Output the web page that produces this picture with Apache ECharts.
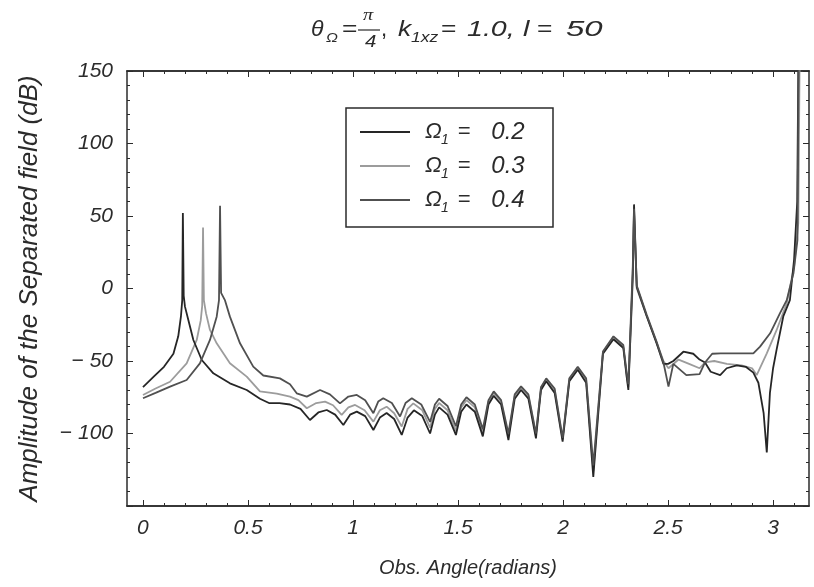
<!DOCTYPE html>
<html><head><meta charset="utf-8">
<script src="https://cdn.jsdelivr.net/npm/echarts@6/dist/echarts.min.js"></script>
<style>html,body{margin:0;padding:0;background:#fff}#c{width:814px;height:587px}</style>
</head><body><div id="c"></div>
<script>
const seriesNames = ['Ω₁ = 0.2', 'Ω₁ = 0.3', 'Ω₁ = 0.4'];

const xA = [0, 0.05, 0.1, 0.145, 0.168, 0.181, 0.187, 0.19, 0.194, 0.2, 0.216, 0.24, 0.28, 0.335, 0.414, 0.494, 0.557, 0.6, 0.65, 0.7, 0.75, 0.795, 0.835, 0.875, 0.915, 0.954, 0.986, 1.018, 1.058, 1.097, 1.128, 1.16, 1.196, 1.232, 1.26, 1.29, 1.33, 1.367, 1.39, 1.41, 1.45, 1.49, 1.515, 1.54, 1.58, 1.618, 1.645, 1.67, 1.705, 1.74, 1.77, 1.8, 1.835, 1.871, 1.895, 1.92, 1.96, 1.998, 2.03, 2.07, 2.11, 2.144, 2.19, 2.24, 2.287, 2.303, 2.311, 2.332, 2.338, 2.351, 2.398, 2.446, 2.478, 2.5, 2.525, 2.573, 2.62, 2.65, 2.676, 2.703, 2.748, 2.779, 2.827, 2.87, 2.906, 2.93, 2.955, 2.97, 2.985, 3.0, 3.017, 3.049, 3.08, 3.1, 3.115, 3.12, 3.125];
const yA = [-68, -61, -54, -45, -33, -19, -8, 52, -5, -12.5, -21.7, -35.5, -49.3, -58.5, -65.4, -70, -76, -79, -79, -80, -83, -90.7, -85.5, -83.8, -87, -94.1, -87, -84.9, -88, -97.6, -89, -85.9, -90, -101, -89, -84, -88, -100, -87, -82, -87, -101, -85, -80, -85, -102, -80, -74, -80, -104.5, -76, -70, -76, -103.3, -70, -64, -72, -105.6, -64, -56, -65, -130, -45, -35, -41, -61, -70, 10, 58, 1, -19, -38, -52, -52, -50, -43.6, -45, -49, -51, -57.4, -59.7, -55, -53, -54, -58, -65, -86, -113, -72, -55, -42, -19, -8, 20, 60, 150, 170];

const xB = [0, 0.06, 0.129, 0.208, 0.256, 0.275, 0.282, 0.286, 0.29, 0.3, 0.319, 0.351, 0.414, 0.494, 0.557, 0.637, 0.7, 0.74, 0.78, 0.825, 0.867, 0.905, 0.946, 0.978, 1.01, 1.055, 1.097, 1.128, 1.16, 1.196, 1.232, 1.26, 1.287, 1.33, 1.367, 1.39, 1.41, 1.45, 1.49, 1.515, 1.54, 1.58, 1.618, 1.645, 1.67, 1.705, 1.74, 1.77, 1.8, 1.835, 1.871, 1.895, 1.92, 1.96, 1.998, 2.03, 2.07, 2.11, 2.144, 2.19, 2.24, 2.287, 2.303, 2.311, 2.332, 2.338, 2.351, 2.398, 2.446, 2.478, 2.502, 2.55, 2.6, 2.65, 2.676, 2.72, 2.78, 2.85, 2.9, 2.922, 2.97, 3.017, 3.065, 3.1, 3.12, 3.127];
const yB = [-73.4, -69, -64.3, -51.6, -35.5, -22, -12, 42, -8, -17, -28.6, -37.8, -51.6, -60.8, -71, -72.5, -74.6, -77, -82.6, -79, -78, -80.5, -87.2, -82, -80.3, -84, -91.8, -84, -81.5, -86, -95.2, -83, -79.2, -84, -96, -83, -79, -84, -98, -82, -77, -82, -100, -78, -72, -78, -102, -74, -68.5, -74, -101, -68.5, -62.5, -70, -104, -62.5, -54.5, -63, -126, -44, -33.5, -40, -60, -68, 5, 52, 0, -19, -37.5, -50, -55, -49, -52, -55, -51, -50, -52, -53, -55, -59.7, -44.7, -28.6, -10.2, 15, 45, 170];

const xC = [0, 0.06, 0.129, 0.208, 0.271, 0.319, 0.351, 0.362, 0.367, 0.372, 0.39, 0.414, 0.462, 0.525, 0.573, 0.652, 0.7, 0.732, 0.78, 0.843, 0.89, 0.938, 0.978, 1.018, 1.058, 1.097, 1.12, 1.144, 1.185, 1.224, 1.25, 1.28, 1.325, 1.367, 1.39, 1.41, 1.45, 1.49, 1.515, 1.54, 1.58, 1.618, 1.645, 1.67, 1.705, 1.74, 1.77, 1.8, 1.835, 1.871, 1.895, 1.92, 1.96, 1.998, 2.03, 2.07, 2.11, 2.144, 2.19, 2.24, 2.287, 2.303, 2.311, 2.332, 2.338, 2.351, 2.398, 2.446, 2.478, 2.502, 2.525, 2.587, 2.65, 2.676, 2.71, 2.75, 2.85, 2.906, 2.938, 2.986, 3.033, 3.065, 3.097, 3.116, 3.122];
const yC = [-75.7, -72, -67.7, -63.1, -51.6, -35.5, -19.4, -8, 57, -3, -8, -19.4, -37.8, -53.9, -60, -62, -66, -72.3, -74.6, -70, -73, -79.2, -74.5, -73.4, -77, -86, -78, -75.7, -79, -88.3, -79, -75.7, -80, -92, -80, -76, -81, -95, -80, -75, -80, -97, -77, -71, -77, -100, -73, -67.5, -73, -100, -68, -62, -69, -103, -62, -54, -62, -122, -43.5, -33, -39, -58, -66, 15, 55, 2, -18, -37, -51, -67.7, -52, -59.7, -59, -51, -45, -44.7, -44.7, -44.7, -40.1, -30.9, -17, -8, 10.5, 33.4, 170];

const xMajorTicks = [0, 0.5, 1, 1.5, 2, 2.5, 3];
const xMinorTicks = [0.1, 0.2, 0.3, 0.4, 0.6, 0.7, 0.8, 0.9, 1.1, 1.2, 1.3, 1.4, 1.6, 1.7, 1.8, 1.9, 2.1, 2.2, 2.3, 2.4, 2.6, 2.7, 2.8, 2.9, 3.1];

const zip = (xs, ys) => xs.map((x, i) => [x, ys[i]]);
const FONT = 'Liberation Sans';
const INK = '#2b2b2b';
const colors = ['#262626', '#9c9c9c', '#505050'];

const chart = echarts.init(document.getElementById('c'), null, {renderer: 'canvas'});

const xBase = {
  type: 'value', min: -0.076, max: 3.171,
  splitLine: {show: false},
  axisLine: {show: true, onZero: false, lineStyle: {color: INK, width: 1.5}},
};
const yBase = {
  type: 'value', min: -150, max: 150, interval: 50,
  splitLine: {show: false},
  axisLine: {show: true, onZero: false, lineStyle: {color: INK, width: 1.5}},
  axisTick: {show: true, inside: true, length: 6, lineStyle: {color: INK, width: 1}},
  minorTick: {show: true, splitNumber: 5, length: 3, lineStyle: {color: INK, width: 1}},
};

const tTxt = (text, x, y, size, sx, serif, upright) => ({
  type: 'text', x: x, y: y, scaleX: sx,
  style: {text: text, font: (upright ? '' : 'italic ') + size + 'px "' + (serif ? 'Liberation Serif' : 'Liberation Sans') + '"', fill: INK, textVerticalAlign: 'top'}
});

chart.setOption({
  animation: false,
  backgroundColor: '#fff',
  color: colors,
  grid: {left: 127, top: 71, right: 5, bottom: 81, containLabel: false},
  xAxis: [
    Object.assign({}, xBase, {
      position: 'bottom',
      name: 'Obs. Angle(radians)', nameLocation: 'middle', nameGap: 52,
      nameTextStyle: {fontFamily: FONT, fontStyle: 'italic', fontSize: 20, color: INK},
      axisTick: {show: true, inside: true, length: 6, customValues: xMajorTicks, lineStyle: {color: INK, width: 1}},
      axisLabel: {show: true, customValues: xMajorTicks, margin: 12, fontFamily: FONT, fontStyle: 'italic', fontSize: 21, color: INK,
        formatter: v => String(v)}
    }),
    Object.assign({}, xBase, {
      position: 'bottom',
      axisTick: {show: true, inside: true, length: 3, customValues: xMinorTicks, lineStyle: {color: INK, width: 1}},
      axisLabel: {show: false}
    }),
    Object.assign({}, xBase, {
      position: 'top',
      axisTick: {show: true, inside: true, length: 6, customValues: xMajorTicks, lineStyle: {color: INK, width: 1}},
      axisLabel: {show: false}
    }),
    Object.assign({}, xBase, {
      position: 'top',
      axisTick: {show: true, inside: true, length: 3, customValues: xMinorTicks, lineStyle: {color: INK, width: 1}},
      axisLabel: {show: false}
    })
  ],
  yAxis: [
    Object.assign({}, yBase, {
      position: 'left',
      name: 'Amplitude of the Separated field (dB)', nameLocation: 'middle', nameGap: 84, nameRotate: 90,
      nameTextStyle: {fontFamily: FONT, fontStyle: 'italic', fontSize: 26, color: INK},
      axisLabel: {show: true, showMinLabel: false, margin: 14, fontFamily: FONT, fontStyle: 'italic', fontSize: 21, color: INK,
        formatter: v => v < 0 ? '− ' + Math.abs(v) : String(v)}
    }),
    Object.assign({}, yBase, {
      position: 'right',
      axisLabel: {show: false}
    })
  ],
  legend: {
    show: true, orient: 'vertical', left: 346, top: 108,
    padding: [12, 14, 12, 14], itemGap: 7,
    borderColor: INK, borderWidth: 1.5, backgroundColor: '#fff', borderRadius: 0,
    itemWidth: 50, itemHeight: 2, icon: 'rect',
    formatter: n => {
      const v = n.split('= ')[1];
      return '{o|Ω}{s|1}{e|=}{n|' + v + '}';
    },
    textStyle: {
      fontFamily: FONT, fontStyle: 'italic', color: INK,
      rich: {
        o: {fontFamily: FONT, fontStyle: 'italic', fontSize: 22, color: INK, width: 16, padding: [0, 0, 0, 10], lineHeight: 24, verticalAlign: 'middle'},
        s: {fontFamily: FONT, fontStyle: 'italic', fontSize: 14, color: INK, width: 12, lineHeight: 24, verticalAlign: 'bottom', padding: [0, 0, -3, 0]},
        e: {fontFamily: FONT, fontSize: 22, color: INK, width: 22, align: 'center', lineHeight: 24, verticalAlign: 'middle'},
        n: {fontFamily: FONT, fontStyle: 'italic', fontSize: 24, color: INK, width: 62, padding: [0, 0, 0, 2], lineHeight: 24, verticalAlign: 'middle'}
      }
    },
    data: seriesNames
  },
  graphic: [
    tTxt('θ', 311, 19, 22, 1.05, false),
    tTxt('Ω', 326, 32, 13, 1.2, false),
    tTxt('=', 342, 19, 22, 1.2, false, true),
    tTxt('π', 363, 7, 17, 1.2, true),
    {type: 'line', shape: {x1: 358, y1: 30, x2: 380, y2: 30}, style: {stroke: INK, lineWidth: 1.2}},
    tTxt('4', 365, 34, 17, 1.2, false),
    tTxt(',', 381, 19, 22, 1, false, true),
    tTxt('k', 398, 19, 22, 1.2, false),
    tTxt('1xz', 411, 31, 14, 1.25, false),
    tTxt('=', 441, 19, 22, 1.2, false, true),
    tTxt('1.0,', 467, 19, 22, 1.3, false),
    tTxt('l', 523, 19, 22, 1.3, false),
    tTxt('=', 537, 19, 22, 1.2, false, true),
    tTxt('50', 566, 19, 22, 1.5, false)
  ],
  series: [
    {name: seriesNames[0], type: 'line', data: zip(xA, yA), xAxisIndex: 0, yAxisIndex: 0, showSymbol: false, symbol: 'none', z: 3, clip: true,
     lineStyle: {color: colors[0], width: 1.8}, itemStyle: {color: colors[0]}},
    {name: seriesNames[1], type: 'line', data: zip(xB, yB), xAxisIndex: 0, yAxisIndex: 0, showSymbol: false, symbol: 'none', z: 2, clip: true,
     lineStyle: {color: colors[1], width: 1.8}, itemStyle: {color: colors[1]}},
    {name: seriesNames[2], type: 'line', data: zip(xC, yC), xAxisIndex: 0, yAxisIndex: 0, showSymbol: false, symbol: 'none', z: 3, clip: true,
     lineStyle: {color: colors[2], width: 1.8}, itemStyle: {color: colors[2]}}
  ]
});
</script>
</body></html>
